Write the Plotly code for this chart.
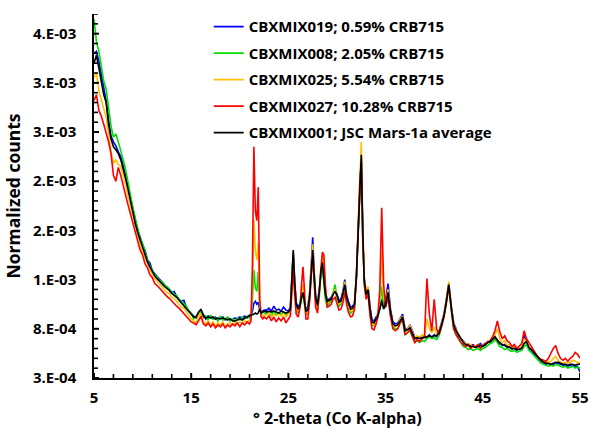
import numpy as np
import plotly.graph_objects as go

# 2-theta grid (degrees, Co K-alpha)
two_theta = [
    5.0, 5.25, 5.5, 5.75, 6.0, 6.25, 6.5, 6.75, 7.0, 7.25, 7.5, 7.75, 8.0, 8.25, 8.5, 8.75,
    9.0, 9.25, 9.5, 9.75, 10.0, 10.25, 10.5, 10.75, 11.0, 11.25, 11.5, 11.75, 12.0, 12.25,
    12.5, 12.75, 13.0, 13.25, 13.5, 13.75, 14.0, 14.25, 14.5, 14.75, 15.0,
    15.25, 15.5, 15.75, 16.0, 16.25, 16.5, 16.75, 17.0, 17.25, 17.5, 17.75, 18.0, 18.25,
    18.5, 18.75, 19.0, 19.25, 19.5, 19.75, 20.0, 20.25, 20.5, 20.75, 21.0,
    21.15, 21.3, 21.45, 21.6, 21.75, 21.9, 22.05, 22.2, 22.35, 22.5,
    22.75, 23.0, 23.25, 23.5, 23.75, 24.0, 24.25, 24.5, 24.75, 25.0,
    25.2, 25.35, 25.5, 25.65, 25.8, 26.0, 26.2, 26.35, 26.5, 26.65, 26.8, 27.0, 27.2, 27.35,
    27.5, 27.65, 27.8, 28.0, 28.2, 28.35, 28.5, 28.65, 28.8, 29.0, 29.2, 29.4, 29.6, 29.8,
    30.0, 30.2, 30.4, 30.6, 30.8, 31.0, 31.2, 31.4, 31.6, 31.8, 32.0, 32.2, 32.35, 32.5,
    32.65, 32.8, 33.0, 33.2, 33.4, 33.6, 33.8, 34.0, 34.2, 34.4, 34.6, 34.8, 35.0, 35.25,
    35.5, 35.75, 36.0,
    36.25, 36.5, 36.75, 37.0, 37.25, 37.5, 37.75, 38.0, 38.25, 38.5, 38.75, 39.0, 39.25,
    39.5, 39.75, 40.0, 40.25, 40.5, 40.75, 41.0, 41.25, 41.5, 41.75, 42.0, 42.25, 42.5,
    42.75, 43.0, 43.25, 43.5, 43.75, 44.0, 44.25, 44.5, 44.75, 45.0, 45.25, 45.5, 45.75,
    46.0, 46.25, 46.5, 46.75, 47.0, 47.25, 47.5, 47.75, 48.0, 48.25, 48.5, 48.75, 49.0,
    49.25, 49.5, 49.75, 50.0, 50.25, 50.5, 50.75, 51.0, 51.25, 51.5, 51.75, 52.0, 52.25,
    52.5, 52.75, 53.0, 53.25, 53.5, 53.75, 54.0, 54.25, 54.5, 54.75, 55.0,
]

# Normalized counts, in units of 1e-3
mix019 = [  # blue, 0.59% CRB715
    3.60, 3.62, 3.52, 3.38, 3.22, 3.12, 2.92, 2.76, 2.70, 2.66, 2.60, 2.55, 2.46, 2.35, 2.24, 2.14,
    2.00, 1.90, 1.80, 1.73, 1.65, 1.60, 1.50, 1.47, 1.39, 1.36, 1.33, 1.31, 1.27, 1.25,
    1.22, 1.20, 1.17, 1.18, 1.13, 1.10, 1.08, 1.09, 1.02, 0.98, 0.95,
    0.93, 0.91, 0.96, 0.99, 0.94, 0.90, 0.93, 0.92, 0.90, 0.92, 0.89, 0.91, 0.92,
    0.89, 0.91, 0.90, 0.89, 0.91, 0.90, 0.92, 0.91, 0.93, 0.91, 0.94,
    0.94, 0.98, 1.06, 1.08, 1.05, 1.07, 0.99, 0.97, 0.98, 0.99,
    0.99, 1.01, 0.98, 1.03, 0.99, 1.00, 0.98, 1.02, 0.99, 0.98,
    1.02, 1.28, 1.58, 1.27, 1.07, 1.02, 1.06, 1.13, 1.15, 1.07, 1.00, 1.02, 1.18, 1.45,
    1.73, 1.38, 1.14, 1.06, 1.22, 1.40, 1.48, 1.32, 1.16, 1.10, 1.10, 1.12, 1.17, 1.20,
    1.15, 1.09, 1.10, 1.18, 1.30, 1.14, 1.07, 1.02, 1.03, 1.06, 1.33, 1.88, 2.28, 2.55,
    1.73, 1.32, 1.17, 1.22, 1.02, 0.89, 0.88, 0.91, 0.95, 1.00, 1.10, 1.02, 1.10, 1.26,
    1.00, 0.87, 0.85,
    0.86, 0.90, 0.95, 0.80, 0.80, 0.84, 0.77, 0.72, 0.70, 0.72, 0.70, 0.73, 0.71,
    0.74, 0.71, 0.74, 0.72, 0.78, 0.86, 0.95, 1.10, 1.26, 1.04, 0.86, 0.80, 0.73,
    0.70, 0.67, 0.65, 0.64, 0.63, 0.64, 0.62, 0.63, 0.65, 0.63, 0.63, 0.67, 0.66,
    0.70, 0.71, 0.68, 0.66, 0.63, 0.64, 0.61, 0.62, 0.59, 0.61, 0.58, 0.60, 0.61,
    0.74, 0.66, 0.60, 0.58, 0.55, 0.52, 0.49, 0.47, 0.46, 0.44, 0.45, 0.43, 0.44,
    0.45, 0.45, 0.44, 0.43, 0.43, 0.42, 0.43, 0.43, 0.42, 0.42, 0.36,
]

mix008 = [  # green, 2.05% CRB715
    3.95, 3.72, 3.62, 3.48, 3.32, 3.24, 3.05, 2.86, 2.75, 2.78, 2.70, 2.62, 2.52, 2.42, 2.28, 2.16,
    2.03, 1.92, 1.82, 1.72, 1.67, 1.57, 1.50, 1.44, 1.40, 1.35, 1.33, 1.29, 1.28, 1.24,
    1.23, 1.20, 1.18, 1.15, 1.14, 1.10, 1.08, 1.05, 1.03, 0.98, 0.96,
    0.90, 0.93, 0.95, 0.98, 0.91, 0.93, 0.89, 0.94, 0.90, 0.91, 0.88, 0.93, 0.89,
    0.90, 0.92, 0.88, 0.90, 0.87, 0.91, 0.89, 0.92, 0.90, 0.93, 0.91,
    0.92, 1.10, 1.40, 1.22, 1.18, 1.38, 1.02, 0.96, 0.97, 0.96,
    0.95, 0.97, 0.93, 0.98, 0.94, 0.96, 0.95, 0.97, 0.94, 0.96,
    0.97, 1.25, 1.55, 1.22, 1.00, 0.96, 1.02, 1.10, 1.16, 1.05, 0.94, 0.97, 1.12, 1.35,
    1.57, 1.32, 1.08, 1.00, 1.15, 1.36, 1.44, 1.27, 1.10, 1.02, 1.06, 1.08, 1.18, 1.25,
    1.10, 1.03, 1.05, 1.13, 1.24, 1.08, 1.00, 0.96, 0.98, 1.04, 1.32, 1.87, 2.28, 2.52,
    1.72, 1.28, 1.12, 1.17, 0.97, 0.84, 0.83, 0.87, 0.92, 1.02, 1.23, 1.02, 1.02, 1.14,
    0.95, 0.82, 0.80,
    0.80, 0.86, 0.88, 0.74, 0.76, 0.78, 0.72, 0.67, 0.68, 0.66, 0.68, 0.67, 0.70,
    0.72, 0.70, 0.71, 0.69, 0.73, 0.82, 0.92, 1.06, 1.22, 1.00, 0.80, 0.74, 0.70,
    0.65, 0.62, 0.61, 0.59, 0.60, 0.58, 0.59, 0.60, 0.58, 0.60, 0.61, 0.63, 0.65,
    0.66, 0.69, 0.66, 0.62, 0.61, 0.59, 0.60, 0.58, 0.57, 0.58, 0.56, 0.57, 0.58,
    0.62, 0.64, 0.58, 0.56, 0.53, 0.50, 0.47, 0.45, 0.44, 0.43, 0.42, 0.43, 0.42,
    0.44, 0.43, 0.42, 0.41, 0.42, 0.40, 0.41, 0.42, 0.40, 0.41, 0.40,
]

mix025 = [  # orange, 5.54% CRB715
    3.35, 3.40, 3.22, 3.12, 3.05, 2.95, 2.78, 2.60, 2.48, 2.52, 2.47, 2.45, 2.36, 2.27, 2.15, 2.05,
    1.93, 1.83, 1.74, 1.66, 1.58, 1.52, 1.45, 1.40, 1.35, 1.31, 1.28, 1.25, 1.22, 1.20,
    1.17, 1.16, 1.12, 1.11, 1.08, 1.06, 1.02, 1.01, 0.97, 0.94, 0.90,
    0.88, 0.86, 0.93, 0.96, 0.87, 0.85, 0.88, 0.84, 0.87, 0.83, 0.86, 0.84, 0.87,
    0.82, 0.85, 0.86, 0.84, 0.86, 0.85, 0.87, 0.86, 0.88, 0.87, 0.89,
    0.90, 1.25, 1.91, 1.60, 1.50, 1.68, 1.08, 0.95, 0.93, 0.94,
    0.94, 0.96, 0.92, 0.95, 0.93, 0.95, 0.93, 0.96, 0.92, 0.95,
    0.98, 1.26, 1.57, 1.25, 1.02, 0.98, 1.05, 1.18, 1.25, 1.10, 0.95, 0.98, 1.18, 1.43,
    1.66, 1.36, 1.10, 1.02, 1.22, 1.45, 1.56, 1.45, 1.20, 1.06, 1.08, 1.10, 1.16, 1.20,
    1.13, 1.05, 1.07, 1.15, 1.28, 1.10, 1.02, 0.98, 0.99, 1.06, 1.38, 1.95, 2.40, 2.70,
    1.80, 1.33, 1.17, 1.23, 1.00, 0.86, 0.84, 0.88, 0.95, 1.08, 1.59, 1.12, 1.07, 1.20,
    0.97, 0.84, 0.82,
    0.84, 0.90, 0.93, 0.78, 0.80, 0.83, 0.76, 0.71, 0.73, 0.71, 0.74, 0.72, 0.90,
    0.80, 0.76, 0.82, 0.74, 0.77, 0.85, 0.95, 1.10, 1.28, 1.03, 0.85, 0.79, 0.75,
    0.69, 0.67, 0.65, 0.64, 0.64, 0.62, 0.63, 0.64, 0.62, 0.64, 0.65, 0.66, 0.68,
    0.70, 0.74, 0.80, 0.70, 0.66, 0.68, 0.63, 0.64, 0.61, 0.62, 0.60, 0.61, 0.62,
    0.70, 0.66, 0.62, 0.60, 0.57, 0.54, 0.50, 0.48, 0.47, 0.46, 0.46, 0.47, 0.50,
    0.52, 0.48, 0.46, 0.45, 0.46, 0.45, 0.46, 0.48, 0.47, 0.46, 0.45,
]

mix027 = [  # red, 10.28% CRB715
    3.12, 3.18, 3.02, 2.96, 2.88, 2.80, 2.70, 2.58, 2.36, 2.30, 2.44, 2.36, 2.25, 2.17, 2.06, 1.97,
    1.87, 1.77, 1.70, 1.60, 1.55, 1.46, 1.42, 1.35, 1.32, 1.26, 1.24, 1.21, 1.18, 1.16,
    1.13, 1.11, 1.08, 1.06, 1.03, 1.01, 0.98, 0.96, 0.93, 0.89, 0.87,
    0.86, 0.84, 0.88, 0.93, 0.85, 0.83, 0.86, 0.82, 0.85, 0.81, 0.84, 0.82, 0.85,
    0.81, 0.84, 0.82, 0.85, 0.83, 0.86, 0.82, 0.86, 0.84, 0.87, 0.85,
    0.88, 1.45, 2.65, 2.00, 1.90, 2.24, 1.10, 0.92, 0.90, 0.92,
    0.90, 0.93, 0.88, 0.92, 0.87, 0.91, 0.88, 0.92, 0.86, 0.90,
    0.93, 1.15, 1.40, 1.15, 0.95, 0.92, 1.02, 1.25, 1.43, 1.20, 0.90, 0.90, 1.10, 1.35,
    1.52, 1.28, 1.02, 0.96, 1.20, 1.45, 1.58, 1.55, 1.25, 1.02, 1.03, 1.05, 1.10, 1.12,
    1.06, 0.99, 1.00, 1.06, 1.18, 1.04, 0.96, 0.92, 0.93, 1.00, 1.32, 1.88, 2.30, 2.50,
    1.70, 1.25, 1.10, 1.15, 0.93, 0.80, 0.79, 0.84, 0.92, 1.20, 2.03, 1.25, 1.02, 1.12,
    0.93, 0.80, 0.78,
    0.80, 0.86, 0.90, 0.74, 0.76, 0.79, 0.72, 0.66, 0.69, 0.67, 0.70, 0.72, 1.31,
    0.95, 0.78, 1.10, 0.80, 0.74, 0.82, 0.92, 1.06, 1.24, 1.00, 0.80, 0.74, 0.70,
    0.66, 0.64, 0.62, 0.64, 0.60, 0.63, 0.61, 0.64, 0.60, 0.63, 0.65, 0.66, 0.68,
    0.72, 0.78, 0.88, 0.77, 0.70, 0.73, 0.68, 0.66, 0.62, 0.64, 0.60, 0.63, 0.65,
    0.78, 0.70, 0.66, 0.62, 0.58, 0.54, 0.50, 0.49, 0.48, 0.47, 0.50, 0.55, 0.60,
    0.63, 0.55, 0.50, 0.48, 0.50, 0.47, 0.50, 0.52, 0.56, 0.54, 0.50,
]

mix001 = [  # black, JSC Mars-1a average
    3.50, 3.58, 3.45, 3.30, 3.18, 3.10, 2.88, 2.73, 2.65, 2.62, 2.58, 2.52, 2.43, 2.33, 2.22, 2.10,
    1.98, 1.87, 1.78, 1.70, 1.63, 1.55, 1.48, 1.43, 1.38, 1.34, 1.31, 1.28, 1.26, 1.23,
    1.21, 1.19, 1.16, 1.14, 1.12, 1.09, 1.06, 1.04, 1.01, 0.97, 0.94,
    0.92, 0.92, 0.97, 1.00, 0.93, 0.91, 0.92, 0.91, 0.92, 0.90, 0.91, 0.90, 0.91,
    0.90, 0.89, 0.90, 0.88, 0.88, 0.89, 0.90, 0.89, 0.91, 0.92, 0.93,
    0.93, 0.94, 0.95, 0.96, 0.95, 0.96, 1.00, 0.96, 0.97, 0.98,
    0.97, 0.98, 0.97, 0.98, 0.97, 0.96, 0.98, 0.97, 0.96, 0.97,
    1.00, 1.30, 1.60, 1.28, 1.05, 1.00, 1.04, 1.12, 1.17, 1.08, 0.98, 0.99, 1.15, 1.38,
    1.60, 1.35, 1.12, 1.04, 1.20, 1.40, 1.47, 1.30, 1.15, 1.08, 1.09, 1.10, 1.15, 1.18,
    1.14, 1.07, 1.08, 1.15, 1.25, 1.12, 1.05, 1.00, 1.01, 1.05, 1.35, 1.90, 2.30, 2.57,
    1.75, 1.30, 1.15, 1.20, 1.00, 0.87, 0.86, 0.89, 0.93, 1.00, 1.08, 1.00, 1.05, 1.17,
    0.98, 0.85, 0.83,
    0.84, 0.88, 0.92, 0.78, 0.79, 0.81, 0.76, 0.70, 0.71, 0.70, 0.71, 0.71, 0.72,
    0.73, 0.72, 0.73, 0.73, 0.76, 0.84, 0.93, 1.08, 1.25, 1.02, 0.84, 0.78, 0.74,
    0.69, 0.66, 0.64, 0.63, 0.62, 0.62, 0.61, 0.62, 0.63, 0.62, 0.64, 0.66, 0.67,
    0.69, 0.72, 0.69, 0.65, 0.64, 0.63, 0.62, 0.61, 0.60, 0.60, 0.59, 0.59, 0.60,
    0.65, 0.67, 0.61, 0.59, 0.56, 0.53, 0.50, 0.48, 0.46, 0.45, 0.45, 0.44, 0.45,
    0.46, 0.46, 0.45, 0.44, 0.44, 0.43, 0.44, 0.44, 0.43, 0.44, 0.44,
]

series_names = [
    "CBXMIX019; 0.59% CRB715",
    "CBXMIX008; 2.05% CRB715",
    "CBXMIX025; 5.54% CRB715",
    "CBXMIX027; 10.28% CRB715",
    "CBXMIX001; JSC Mars-1a average",
]
series_values = [mix019, mix008, mix025, mix027, mix001]
series_colors = ["#0000FF", "#00E000", "#FFC000", "#FF0000", "#000000"]

# labelled ticks
x_major = [5, 15, 25, 35, 45, 55]
x_minor_step = 2
y_major = [0.0003, 0.0008, 0.0013, 0.0018, 0.0023, 0.0028, 0.0033, 0.0038]
y_major_text = ["3.E-04", "8.E-04", "1.E-03", "2.E-03", "2.E-03", "3.E-03", "3.E-03", "4.E-03"]
y_minor_step = 0.0001

X_RANGE = [5, 55]
Y_RANGE = [0.0003, 0.0040]
W, H = 590, 428
MARGIN = dict(l=94, r=10, t=14, b=50)

# tick positions (major + minor); only majors carry a label
x_tickvals = list(range(X_RANGE[0], X_RANGE[1] + 1, x_minor_step))
x_ticktext = [str(v) if v in x_major else "" for v in x_tickvals]
n_y = int(round((Y_RANGE[1] - Y_RANGE[0]) / y_minor_step)) + 1
y_tickvals = [round(Y_RANGE[0] + i * y_minor_step, 6) for i in range(n_y)]
PAD = "\u00a0\u00a0"
y_lookup = {round(v, 6): t for v, t in zip(y_major, y_major_text)}
y_ticktext = [y_lookup[v] + PAD if v in y_lookup else "" for v in y_tickvals]

FONT = "Open Sans"

fig = go.Figure()
for name, vals, color in zip(series_names, series_values, series_colors):
    fig.add_trace(go.Scatter(
        x=two_theta, y=np.array(vals) * 1e-3, mode="lines", name=name,
        legendgroup=name, line=dict(color=color, width=1.6),
    ))

# tick marks drawn as short segments across each axis line (length in px -> axis units)
x_per_px = (X_RANGE[1] - X_RANGE[0]) / (W - MARGIN["l"] - MARGIN["r"])
y_per_px = (Y_RANGE[1] - Y_RANGE[0]) / (H - MARGIN["t"] - MARGIN["b"])


def x_tick_path(vals, half_px):
    xs, ys = [], []
    for v in vals:
        xs += [v, v, None]
        ys += [Y_RANGE[0] - half_px * y_per_px, Y_RANGE[0] + half_px * y_per_px, None]
    return xs, ys


def y_tick_path(vals, half_px):
    xs, ys = [], []
    for v in vals:
        xs += [X_RANGE[0] - half_px * x_per_px, X_RANGE[0] + half_px * x_per_px, None]
        ys += [v, v, None]
    return xs, ys


tick_paths = [
    (x_tick_path([v for v in x_tickvals if v in x_major], 5), 2),
    (x_tick_path([v for v in x_tickvals if v not in x_major], 4), 1.6),
    (y_tick_path([v for v in y_tickvals if v in y_lookup], 5), 2),
    (y_tick_path([v for v in y_tickvals if v not in y_lookup], 4), 1.6),
]
for (tx, ty), width in tick_paths:
    fig.add_trace(go.Scatter(
        x=tx, y=ty, mode="lines", showlegend=False, hoverinfo="skip", cliponaxis=False,
        line=dict(color="black", width=width),
    ))

tickfont = dict(family=FONT, size=15, color="#000000", weight="bold")
titlefont = dict(family=FONT, size=17.5, color="#000000", weight="bold")

fig.update_layout(
    template="none",
    width=W, height=H,
    margin=MARGIN,
    paper_bgcolor="white", plot_bgcolor="white",
    showlegend=True,
    legend=dict(
        x=0.236, y=1.01, xanchor="left", yanchor="top",
        bgcolor="rgba(0,0,0,0)", itemwidth=30, tracegroupgap=4,
        font=dict(family=FONT, size=15, color="#000000", weight="bold"),
    ),
    xaxis=dict(
        range=X_RANGE, tickmode="array", tickvals=x_tickvals, ticktext=x_ticktext,
        showline=True, linecolor="black", linewidth=2,
        ticks="outside", ticklen=5, tickwidth=2, tickcolor="rgba(0,0,0,0)",
        showgrid=False, zeroline=False, automargin=False,
        tickfont=tickfont,
    ),
    yaxis=dict(
        range=Y_RANGE, tickmode="array", tickvals=y_tickvals, ticktext=y_ticktext,
        showline=True, linecolor="black", linewidth=2,
        ticks="outside", ticklen=5, tickwidth=2, tickcolor="rgba(0,0,0,0)",
        showgrid=False, zeroline=False, automargin=False,
        tickfont=tickfont,
        title=dict(text="Normalized counts", standoff=8, font=titlefont),
    ),
    annotations=[dict(
        text="° 2-theta (Co K-alpha)", xref="paper", yref="paper",
        x=0.5, y=0, xanchor="center", yanchor="top", yshift=-27,
        showarrow=False, font=dict(family=FONT, size=16, color="#000000", weight="bold"),
    )],
)

fig.write_html("out.html")
